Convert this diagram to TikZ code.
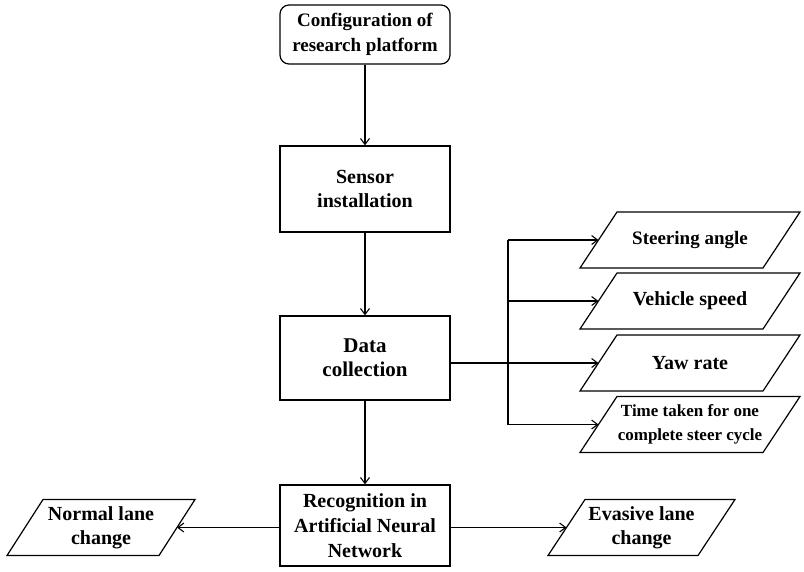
\documentclass[tikz,border=0pt]{standalone}
\usepackage{fontspec}
\setmainfont{Liberation Serif}
\usetikzlibrary{arrows.meta,calc}
\newcommand\fsz[1]{\fontsize{#1}{24}\selectfont}
\begin{document}
\begin{tikzpicture}[x=1pt,y=-1pt,
  line/.style={line width=1.2pt, black},
  arr/.style={line, -{Straight Barb[length=6pt,width=9pt,line width=1.1pt]}},
  txt/.style={font=\bfseries\fsz{20}, align=center, inner sep=0pt},
  box/.style={line, draw, rectangle, minimum width=170pt, align=center,
     font=\bfseries\fsz{20}, inner sep=0pt}]
\useasboundingbox (0,0) rectangle (804,571);

\node[box, rounded corners=9pt, minimum height=59pt, font=\bfseries\fontsize{19}{25}\selectfont] (cfg) at (365,34.5) {Configuration of\\research platform};
\node[box, minimum height=86pt] (sen) at (365,189) {Sensor\\installation};
\node[box, minimum height=84pt, font=\bfseries\fsz{21}] (dat) at (365,358) {Data\\collection};
\node[box, minimum height=81pt, font=\bfseries\fontsize{20}{25}\selectfont] (rec) at (365,525.5) {Recognition in\\Artificial Neural\\Network};

\newcommand\pgram[6]{% name, cx, cy, halfside, halfslant, text
  \draw[line] (#2-#4+#5,#3-28) -- (#2+#4+#5,#3-28) -- (#2+#4-#5,#3+28) -- (#2-#4-#5,#3+28) -- cycle;
  \node[txt] (#1) at (#2,#3) {#6};
  \coordinate (#1-w) at (#2-#4,#3);
  \coordinate (#1-e) at (#2+#4,#3);
}
\pgram{sa}{690}{240}{91.5}{18.5}{\fsz{19}Steering angle}
\pgram{vs}{690}{301}{91.5}{18.5}{Vehicle speed}
\pgram{yr}{690}{363}{91.5}{18.5}{Yaw rate}
\pgram{tt}{690}{424.5}{91.5}{18.5}{\fontsize{17}{22}\selectfont Time taken for one\\\fontsize{17}{22}\selectfont complete steer cycle}
\pgram{nl}{101}{527.5}{76}{18}{Normal lane\\change}
\pgram{el}{641.5}{527.5}{75}{18.5}{Evasive lane\\change}

\draw[arr] (cfg) -- (sen);
\draw[arr] (sen) -- (dat);
\draw[arr] (dat) -- (rec);

\coordinate (bx) at (508,0);
\draw[arr] (dat.east |- yr-w) -- (yr-w);
\draw[line] (bx |- sa-w) -- (bx |- tt-w);
\draw[arr] (bx |- sa-w) -- (sa-w);
\draw[arr] (bx |- vs-w) -- (vs-w);
\draw[arr] (bx |- tt-w) -- (tt-w);

\draw[arr] (rec.west |- nl-e) -- (nl-e);
\draw[arr] (rec.east |- el-w) -- (el-w);
\end{tikzpicture}
\end{document}
